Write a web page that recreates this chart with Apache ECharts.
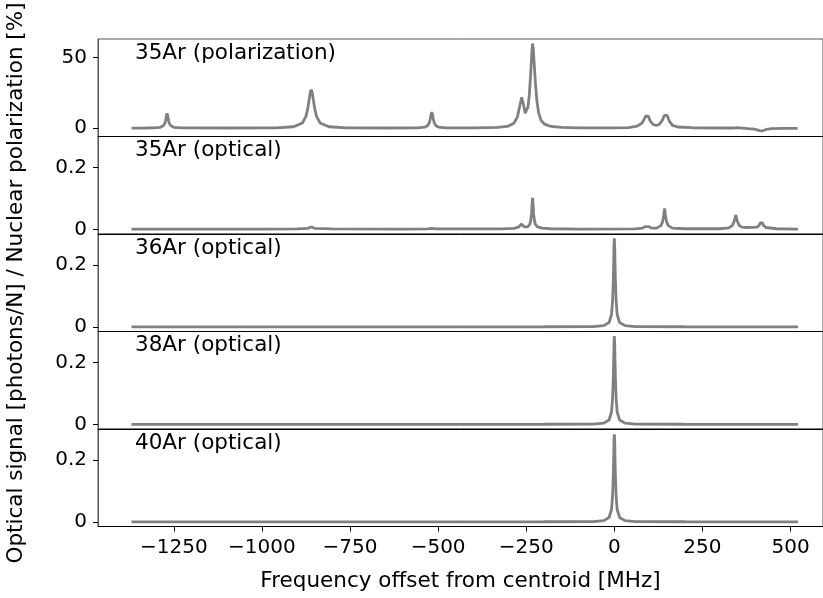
<!DOCTYPE html>
<html>
<head>
<meta charset="utf-8">
<script src="https://cdn.jsdelivr.net/npm/echarts@6/dist/echarts.min.js"></script>
<style>
  html, body { margin: 0; padding: 0; background: #fff; }
  #main { width: 823px; height: 598px; }
</style>
</head>
<body>
<div id="main"></div>
<script>
// [frequency MHz, value]
var pol35 = [
  [-1370,0.05],[-1330,0.1],[-1309,0.15],[-1289,0.5],[-1279,1.8],[-1275,3.6],[-1273,5.6],[-1271,8.6],
  [-1269,10.4],[-1267,8.6],[-1265,5.6],[-1263,3.6],[-1259,1.8],[-1249,0.5],[-1229,0.15],[-1100,0.1],
  [-960,0.25],[-910,1.0],[-885,3.7],[-875,8.3],[-870,13.6],[-866,19.9],[-863,24.9],[-860,27.1],
  [-857,24.9],[-854,19.9],[-850,13.6],[-845,8.3],[-835,3.7],[-810,1.0],[-760,0.25],[-640,0.1],
  [-558,0.17],[-538,0.66],[-530,1.66],[-525,3.8],[-522,6.8],[-520,9.7],[-518,11.2],[-516,9.7],
  [-514,6.8],[-511,3.8],[-506,1.66],[-498,0.66],[-478,0.17],[-400,0.15],
  [-330,0.5],[-300,1.5],[-285,3.5],[-275,8],[-268,16],[-263,21.8],[-258,17],[-253,10.6],[-249,11],
  [-245,15],[-241,24],[-237,40],[-234,54],[-232,59.8],[-230,56],[-227,44],[-224,32],[-220,20],
  [-215,11],[-208,5.5],[-198,2.8],[-180,1.2],[-150,0.5],[-100,0.25],[0,0.2],
  [40,0.4],[65,1.5],[78,3.5],[85,6.5],[89,8.5],[92.5,9.4],[96,8.5],[102,5],[110,2.6],[119,1.9],
  [128,2.8],[136,5.5],[142,9],[146,10.4],[150,9],[156,5],[165,2],[180,0.8],[220,0.3],[300,0.1],
  [340,0.1],[347,0.4],[352,-0.1],[380,-0.3],[395,-0.6],[405,-1.2],[412,-1.8],[418,-2.0],
  [425,-1.5],[432,-0.8],[445,-0.3],[480,-0.2],[520,-0.1]
];

var opt35 = [
  [-1370,0.001],[-1000,0.001],[-900,0.0015],[-870,0.003],[-863,0.007],[-860,0.01],[-857,0.007],
  [-850,0.003],[-800,0.0015],[-600,0.001],[-530,0.0015],[-518,0.003],[-505,0.0015],[-320,0.0015],
  [-285,0.003],[-272,0.007],[-268,0.012],[-264,0.017],[-260,0.012],[-255,0.008],[-246,0.008],
  [-240,0.016],[-237,0.03],[-235,0.05],[-233.5,0.08],[-232,0.102],[-230.5,0.08],[-229,0.05],
  [-227,0.03],[-224,0.016],[-218,0.008],[-205,0.004],[-180,0.002],[-100,0.001],
  [60,0.0015],[80,0.004],[88,0.009],[92.5,0.014],[97,0.009],[105,0.004],[120,0.004],[132,0.012],
  [137,0.025],[140,0.045],[142.6,0.068],[145,0.045],[148,0.025],[153,0.012],[165,0.004],[200,0.002],
  [300,0.002],[325,0.005],[335,0.013],[340,0.026],[344.5,0.046],[349,0.026],[354,0.013],[362,0.007],
  [375,0.006],[405,0.007],[411,0.013],[414,0.021],[417,0.027],[420,0.021],[423,0.013],[430,0.006],
  [460,0.002],[521,0.001]
];

var opt36 = [
  [-1370,0],[-200,0.0003],[-60,0.001],[-30,0.004],[-15,0.014],[-8,0.04],[-5,0.085],[-3,0.15],
  [-2,0.2],[-1,0.26],[0,0.286],[1,0.26],[2,0.2],[3,0.15],[5,0.085],[8,0.04],[15,0.014],[30,0.004],
  [60,0.001],[200,0.0003],[521,0]
];
var opt38 = [
  [-1370,0],[-200,0.0003],[-60,0.001],[-30,0.004],[-15,0.014],[-8,0.04],[-5,0.085],[-3,0.15],
  [-2,0.2],[-1,0.26],[0,0.285],[1,0.26],[2,0.2],[3,0.15],[5,0.085],[8,0.04],[15,0.014],[30,0.004],
  [60,0.001],[200,0.0003],[521,0]
];
var opt40 = [
  [-1370,0],[-200,0.0003],[-60,0.001],[-30,0.004],[-15,0.014],[-8,0.04],[-5,0.085],[-3,0.15],
  [-2,0.2],[-1,0.26],[0,0.283],[1,0.26],[2,0.2],[3,0.15],[5,0.085],[8,0.04],[15,0.014],[30,0.004],
  [60,0.001],[200,0.0003],[521,0]
];

var panelLabels = ['35Ar (polarization)', '35Ar (optical)', '36Ar (optical)', '38Ar (optical)', '40Ar (optical)'];
var freqTicks = [-1250, -1000, -750, -500, -250, 0, 250, 500];
var polTicks = [0, 50];
var optTicks = [0, 0.2];

var panels = [pol35, opt35, opt36, opt38, opt40];
var font = 'DejaVu Sans';
var chart = echarts.init(document.getElementById('main'));

var top0 = 39, h = 97.5;

function fmt(v) {
  return String(v).replace('-', '\u2212');
}

var grids = [], xAxes = [], yAxes = [], series = [], graphics = [];
for (var i = 0; i < panels.length; i++) {
  var last = i === panels.length - 1;
  grids.push({
    left: 98, width: 725, top: top0 + i * h, height: h,
    show: true, borderColor: '#555', borderWidth: 1
  });
  xAxes.push({
    type: 'value', gridIndex: i, min: -1465, max: 592,
    splitLine: { show: false },
    axisLine: { show: true, onZero: false, lineStyle: { color: '#000', width: 1 } },
    axisTick: { show: last, length: 5, lineStyle: { color: '#000' }, customValues: freqTicks },
    axisLabel: {
      show: last, fontFamily: font, fontSize: 20, color: '#000', margin: 11,
      customValues: freqTicks, formatter: fmt
    },
    name: last ? 'Frequency offset from centroid [MHz]' : '',
    nameLocation: 'middle', nameGap: 44,
    nameTextStyle: { fontFamily: font, fontSize: 21.5, color: '#000' }
  });
  var ticks = i === 0 ? polTicks : optTicks;
  yAxes.push({
    type: 'value', gridIndex: i,
    min: i === 0 ? -5.9 : -0.015,
    max: i === 0 ? 63 : 0.30,
    splitLine: { show: false },
    axisLine: { show: true, onZero: false, lineStyle: { color: '#555', width: 1 } },
    axisTick: { show: true, length: 5, lineStyle: { color: '#000' }, customValues: ticks },
    axisLabel: {
      fontFamily: font, fontSize: 20, color: '#000', margin: 11,
      customValues: ticks, formatter: fmt
    }
  });
  series.push({
    type: 'line', xAxisIndex: i, yAxisIndex: i,
    data: panels[i], showSymbol: false, smooth: false,
    lineStyle: { color: '#808080', width: 2.8 },
    itemStyle: { color: '#808080' }
  });
  graphics.push({
    type: 'text', left: 135, top: top0 + i * h + 3,
    style: { text: panelLabels[i], font: '21.5px "DejaVu Sans"', fill: '#000' }
  });
}

graphics.push({
  type: 'text', x: 16, y: 283, rotation: Math.PI / 2,
  style: {
    text: 'Optical signal [photons/N] / Nuclear polarization [%]',
    font: '21.5px "DejaVu Sans"', fill: '#000', align: 'center', verticalAlign: 'middle'
  }
});

option = {
  animation: false,
  backgroundColor: '#fff',
  grid: grids,
  xAxis: xAxes,
  yAxis: yAxes,
  series: series,
  graphic: graphics
};

chart.setOption(option);
</script>
</body>
</html>
